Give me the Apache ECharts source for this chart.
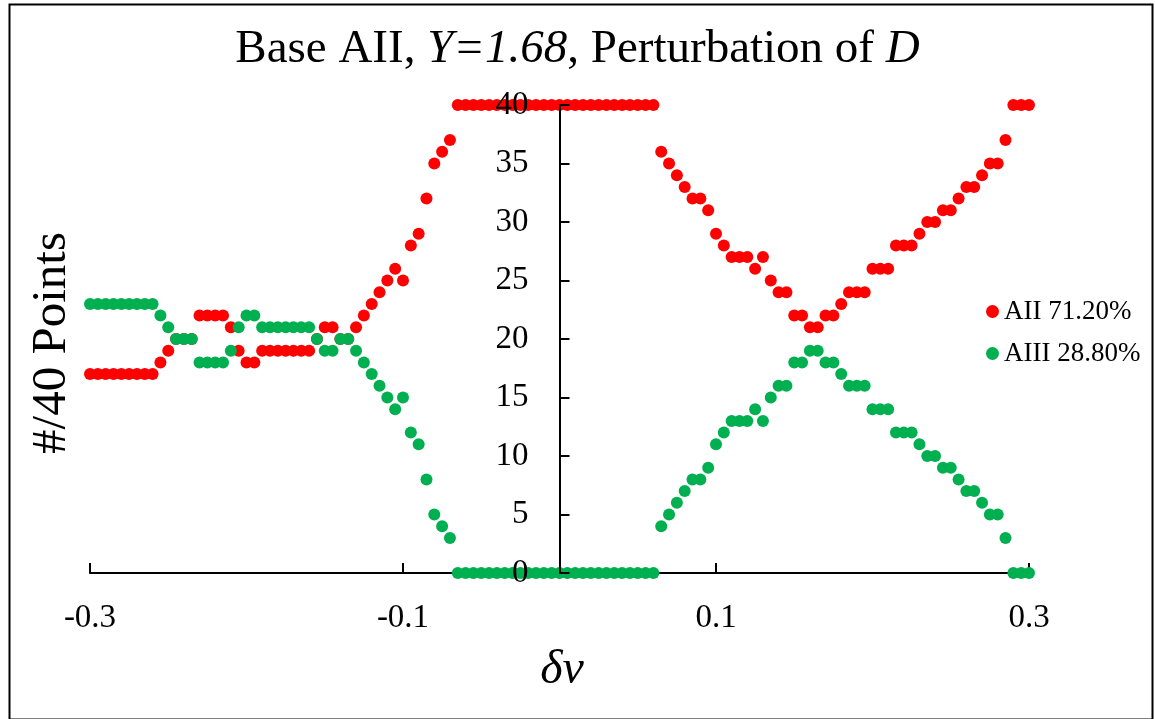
<!DOCTYPE html>
<html>
<head>
<meta charset="utf-8">
<style>
html,body{margin:0;padding:0;background:#fff;}
#chart{width:1155px;height:719px;}
</style>
<script src="https://cdn.jsdelivr.net/npm/echarts@6/dist/echarts.min.js"></script>
</head>
<body>
<div id="chart"></div>
<script>
// δv values (x)
const deltaV = [
 -0.300,-0.295,-0.290,-0.285,-0.280,-0.275,-0.270,-0.265,-0.260,-0.255,
 -0.250,-0.245,-0.240,-0.235,-0.230,-0.225,-0.220,-0.215,-0.210,-0.205,
 -0.200,-0.195,-0.190,-0.185,-0.180,-0.175,-0.170,-0.165,-0.160,-0.155,
 -0.150,-0.145,-0.140,-0.135,-0.130,-0.125,-0.120,-0.115,-0.110,-0.105,
 -0.100,-0.095,-0.090,-0.085,-0.080,-0.075,-0.070,-0.065,-0.060,-0.055,
 -0.050,-0.045,-0.040,-0.035,-0.030,-0.025,-0.020,-0.015,-0.010,-0.005,
  0.000, 0.005, 0.010, 0.015, 0.020, 0.025, 0.030, 0.035, 0.040, 0.045,
  0.050, 0.055, 0.060, 0.065, 0.070, 0.075, 0.080, 0.085, 0.090, 0.095,
  0.100, 0.105, 0.110, 0.115, 0.120, 0.125, 0.130, 0.135, 0.140, 0.145,
  0.150, 0.155, 0.160, 0.165, 0.170, 0.175, 0.180, 0.185, 0.190, 0.195,
  0.200, 0.205, 0.210, 0.215, 0.220, 0.225, 0.230, 0.235, 0.240, 0.245,
  0.250, 0.255, 0.260, 0.265, 0.270, 0.275, 0.280, 0.285, 0.290, 0.295,
  0.300
];
// AII counts (#/40 points)
const aiiCounts = [
 17,17,17,17,17,17,17,17,17,18,
 19,20,20,20,22,22,22,22,21,19,
 18,18,19,19,19,19,19,19,19,20,
 21,21,20,20,21,22,23,24,25,26,
 25,28,29,32,35,36,37,40,40,40,
 40,40,40,40,40,40,40,40,40,40,
 40,40,40,40,40,40,40,40,40,40,
 40,40,40,36,35,34,33,32,32,31,
 29,28,27,27,27,26,27,25,24,24,
 22,22,21,21,22,22,23,24,24,24,
 26,26,26,28,28,28,29,30,30,31,
 31,32,33,33,34,35,35,37,40,40,
 40
];
// AIII counts (#/40 points)
const aiiiCounts = [
 23,23,23,23,23,23,23,23,23,22,
 21,20,20,20,18,18,18,18,19,21,
 22,22,21,21,21,21,21,21,21,20,
 19,19,20,20,19,18,17,16,15,14,
 15,12,11,8,5,4,3,0,0,0,
 0,0,0,0,0,0,0,0,0,0,
 0,0,0,0,0,0,0,0,0,0,
 0,0,0,4,5,6,7,8,8,9,
 11,12,13,13,13,14,13,15,16,16,
 18,18,19,19,18,18,17,16,16,16,
 14,14,14,12,12,12,11,10,10,9,
 9,8,7,7,6,5,5,3,0,0,
 0
];
const seriesNames = ['AII 71.20%', 'AIII 28.80%'];
const xTickValues = [-0.3, -0.1, 0.1, 0.3];

const serif = '"Liberation Serif","Times New Roman",serif';
const chart = echarts.init(document.getElementById('chart'));
const pairs = arr => deltaV.map((x, i) => [x, arr[i]]);

const gridLeft = 90, gridRight = 126;
const plotWidth = 1155 - gridLeft - gridRight;
// y axis sits at δv = 0 (middle of the x range)
const yAxisShift = -plotWidth / 2;

chart.setOption({
  animation: false,
  backgroundColor: '#fff',
  title: {
    text: '{n|Base AII, }{i|Y=1.68}{n|, Perturbation of }{i|D}',
    left: 'center',
    top: 21,
    textStyle: {
      rich: {
        n: { fontFamily: serif, fontSize: 47, fontWeight: 'normal', color: '#000' },
        i: { fontFamily: serif, fontSize: 47, fontWeight: 'normal', fontStyle: 'italic', color: '#000' }
      }
    }
  },
  legend: {
    orient: 'vertical',
    left: 986,
    top: 298,
    padding: 0,
    itemWidth: 13,
    itemHeight: 13,
    itemGap: 15,
    icon: 'circle',
    textStyle: { fontFamily: serif, fontSize: 27, color: '#000' },
    data: seriesNames
  },
  grid: { left: gridLeft, right: gridRight, top: 105, bottom: 146 },
  xAxis: {
    type: 'value',
    min: -0.3,
    max: 0.3,
    splitLine: { show: false },
    axisLine: { show: true, onZero: true, lineStyle: { color: '#000', width: 2 } },
    axisTick: { show: true, inside: true, length: 10, customValues: xTickValues, lineStyle: { color: '#000', width: 2 } },
    axisLabel: {
      customValues: xTickValues,
      margin: 29,
      fontFamily: serif, fontSize: 33, color: '#000',
      formatter: v => String(Math.round(v * 10) / 10)
    }
  },
  yAxis: {
    type: 'value',
    min: 0,
    max: 40,
    interval: 5,
    position: 'left',
    offset: yAxisShift,
    z: 10,
    splitLine: { show: false },
    axisLine: { show: true, onZero: false, lineStyle: { color: '#000', width: 2 } },
    axisTick: { show: true, inside: true, length: 10, lineStyle: { color: '#000', width: 2 } },
    axisLabel: { margin: 31, fontFamily: serif, fontSize: 33, color: '#000', showMinLabel: true, showMaxLabel: true }
  },
  series: [
    {
      name: seriesNames[0], type: 'scatter', symbol: 'circle', symbolSize: 12,
      itemStyle: { color: '#FF0000', opacity: 1 },
      data: pairs(aiiCounts)
    },
    {
      name: seriesNames[1], type: 'scatter', symbol: 'circle', symbolSize: 12,
      itemStyle: { color: '#00B050', opacity: 1 },
      data: pairs(aiiiCounts)
    }
  ],
  graphic: [
    {
      type: 'rect', left: 7, top: 2, z: 100,
      shape: { x: 0, y: 0, width: 1143, height: 715 },
      style: { fill: 'none', stroke: '#000', lineWidth: 2 }
    },
    {
      type: 'text', x: 52, y: 343, rotation: Math.PI / 2,
      style: { text: '#/40 Points', font: '49px ' + serif, fill: '#000', align: 'center', verticalAlign: 'middle' }
    },
    {
      type: 'text', x: 562, y: 670,
      style: { text: 'δv', font: 'italic 48px ' + serif, fill: '#000', align: 'center', verticalAlign: 'middle' }
    }
  ]
});
</script>
</body>
</html>
